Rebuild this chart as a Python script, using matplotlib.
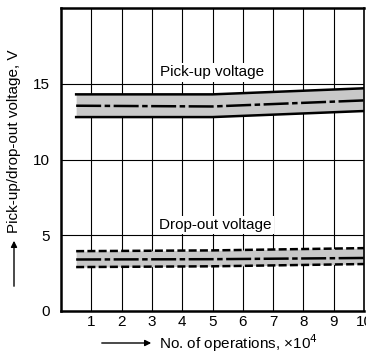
import matplotlib
matplotlib.use("Agg")
import matplotlib.pyplot as plt
import numpy as np

plt.rcParams['font.family'] = ['Liberation Sans', 'DejaVu Sans']

# Number of operations (x10^4) at which the curves are given
ops = [0.5, 5, 10]

# Pick-up voltage band (V)
pickup_max = [14.3, 14.3, 14.7]
pickup_avg = [13.55, 13.5, 13.9]
pickup_min = [12.8, 12.8, 13.2]

# Drop-out voltage band (V)
dropout_max = [3.95, 4.0, 4.15]
dropout_avg = [3.4, 3.42, 3.5]
dropout_min = [2.9, 2.95, 3.1]

x_ticks = [1, 2, 3, 4, 5, 6, 7, 8, 9, 10]
y_ticks = [0, 5, 10, 15]

fig = plt.figure(figsize=(3.66, 3.58), dpi=100)
ax = fig.add_axes([61 / 366, 1 - 311 / 358, 303 / 366, 303 / 358])
ax.set_xlim(0, 10)
ax.set_ylim(0, 20)

# grid
for xv in x_ticks[:-1]:
    ax.axvline(xv, color='black', lw=0.8, zorder=1)
for yv in y_ticks[1:]:
    ax.axhline(yv, color='black', lw=0.8, zorder=1)

band = '#c8c8c8'
lw = 1.8
dashdot = (0, (10, 1.4, 2.2, 1.4))
dashed = (0, (3.2, 1.3))

ax.fill_between(ops, pickup_min, pickup_max, color=band, lw=0, zorder=2)
ax.plot(ops, pickup_max, color='black', lw=lw, zorder=3)
ax.plot(ops, pickup_min, color='black', lw=lw, zorder=3)
ax.plot(ops, pickup_avg, color='black', lw=lw, ls=dashdot, zorder=3)

ax.fill_between(ops, dropout_min, dropout_max, color=band, lw=0, zorder=2)
ax.plot(ops, dropout_max, color='black', lw=lw, ls=dashed, zorder=3)
ax.plot(ops, dropout_min, color='black', lw=lw, ls=dashed, zorder=3)
ax.plot(ops, dropout_avg, color='black', lw=lw, ls=dashdot, zorder=3)

fs = 11
label_box = dict(facecolor='white', edgecolor='none', pad=1.5)
ax.text(4.97, 15.75, 'Pick-up voltage', fontsize=fs, ha='center', va='center',
        bbox=label_box, zorder=4)
ax.text(5.1, 5.7, 'Drop-out voltage', fontsize=fs, ha='center', va='center',
        bbox=label_box, zorder=4)

ax.set_xticks(x_ticks)
ax.set_yticks(y_ticks)
ax.tick_params(length=0, labelsize=fs, pad=8)
ax.xaxis.set_tick_params(pad=3)
for s in ax.spines.values():
    s.set_linewidth(1.8)
ax.spines['right'].set_linewidth(1.2)

# axis titles with leading arrows
fig.text(14 / 366, 1 - 141 / 358, 'Pick-up/drop-out voltage, V', rotation=90,
         fontsize=fs, ha='center', va='center')
fig.add_artist(matplotlib.patches.FancyArrowPatch(
    (14 / 366, 1 - 289 / 358), (14 / 366, 1 - 238 / 358),
    transform=fig.transFigure, arrowstyle='-|>', mutation_scale=9,
    color='black', lw=1.0))
fig.text(159 / 366, 1 - 343 / 358, 'No. of operations, \u00d710$^4$',
         fontsize=fs, ha='left', va='center')
fig.add_artist(matplotlib.patches.FancyArrowPatch(
    (99 / 366, 1 - 343 / 358), (154 / 366, 1 - 343 / 358),
    transform=fig.transFigure, arrowstyle='-|>', mutation_scale=9,
    color='black', lw=1.0))

fig.savefig('out.png', dpi=100)
